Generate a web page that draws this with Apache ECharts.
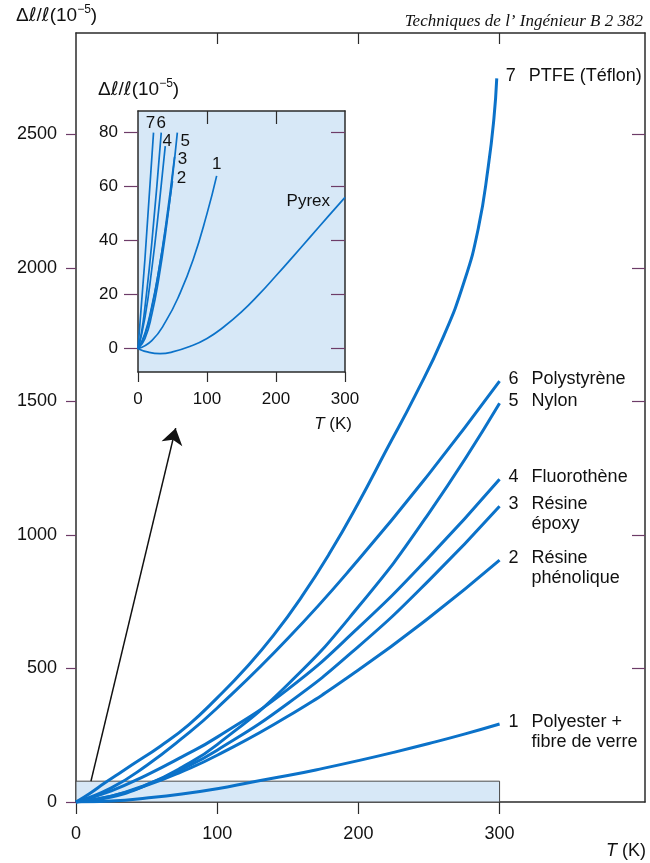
<!DOCTYPE html>
<html><head><meta charset="utf-8">
<script src="https://cdn.jsdelivr.net/npm/echarts@6/dist/echarts.min.js"></script>
<style>html,body{margin:0;padding:0;background:#fff}#c{width:650px;height:863px}</style>
</head><body><div id="c"></div>
<script>
// ---------- DATA ----------
// Main chart: T (K) vs Δℓ/ℓ (10^-5)
const mainT        = [0, 25, 50, 75, 100, 150, 200, 250, 300];
const polystyrene  = [0, 53, 137, 238, 352, 612, 907, 1229, 1576];
const nylon        = [0, 19, 64, 130, 215, 440, 731, 1082, 1493];
const fluorothene  = [0, 42, 101, 169, 243, 422, 653, 917, 1209];
const epoxy        = [0, 22, 65, 123, 194, 369, 582, 830, 1108];
const phenolic     = [0, 22, 62, 114, 175, 321, 494, 690, 906];
const polyesterT   = [0, 25, 50, 75, 100, 125, 150, 175, 200, 225, 250, 275, 300];
const polyester    = [0, 4, 15, 30, 50, 75, 99, 126, 155, 186, 219, 254, 292];
const ptfeT        = [0, 10, 20, 30, 40, 60, 80, 100, 120, 140, 160, 180, 200, 220, 240, 260, 275, 285, 292, 296, 298];
const ptfe         = [0, 33, 70, 105, 140, 210, 290, 390, 500, 625, 770, 935, 1120, 1320, 1520, 1740, 1950, 2150, 2380, 2560, 2710];

const mainXTicks = [0, 100, 200, 300];
const mainYTicks = [0, 500, 1000, 1500, 2000, 2500];
const zoomBoxT = [0, 300];
const zoomBoxV = [0, 78];
const arrowFrom = [10.6, 78];
const arrowTo   = [70.6, 1400];

// Inset (zoom of low range)
const inPtfeT = [0, 10, 22.5];            const inPtfe = [0, 33, 80];
const inPolystyreneT = [0, 5, 10, 20, 33.7]; const inPolystyrene = [0, 5.9, 15.2, 39.2, 80];
const inFluoroT = [0, 10, 20, 30, 39.5];  const inFluoro = [0, 11.4, 29.5, 51.5, 75];
const inNylonT = [0, 10, 20, 30, 40, 50, 57]; const inNylon = [0, 3.7, 12.6, 25.8, 42.8, 63.5, 80];
const inEpoxyT = [0, 10, 20, 30, 40, 53]; const inEpoxy = [0, 5.1, 15.1, 28.8, 45.4, 71];
const inPhenolicT = [0, 10, 20, 30, 40, 50]; const inPhenolic = [0, 5.6, 15.7, 28.9, 44.4, 62];
const inPolyesterT = [0, 20, 40, 60, 80, 100, 114]; const inPolyester = [0, 3, 10, 20, 33, 50, 64];
const pyrexT = [0, 15, 32, 50, 75, 100, 125, 150, 175, 200, 225, 250, 275, 300];
const pyrex  = [0, -1.3, -1.8, -1.2, 0.8, 3.8, 8.2, 13.6, 20.0, 27.0, 34.2, 41.5, 48.8, 56];
const inXTicks = [0, 100, 200, 300];
const inYTicks = [0, 20, 40, 60, 80];

// ---------- CHART ----------
const FONT = '"Liberation Sans", Arial, Helvetica, sans-serif';
const BLUE = '#0b72c9';
const AX = '#2b2b2b';
const TICKY = '#6d3c68';
const FILL = '#d7e8f7';
function zip(xs, ys) { return xs.map((x, i) => [x, ys[i]]); }
const plain = v => String(v);

const MAIN_X_MAX = 403, MAIN_Y_MAX = 2880;
const IN_Y_MIN = -8.63, IN_Y_MAX = 88;

function axis(o) {
  return Object.assign({
    type: 'value', splitLine: { show: false },
    axisLine: { show: true, onZero: false, lineStyle: { color: AX, width: 1.5 } }
  }, o);
}

const rich = {
  n: { width: 23, fontSize: 18, fontFamily: FONT, color: '#111' },
  t: { fontSize: 18, fontFamily: FONT, color: '#111' }
};
function mainLine(name, xs, ys, fmt, two) {
  return {
    type: 'line', name: name, xAxisIndex: 0, yAxisIndex: 0, z: 3,
    data: zip(xs, ys), smooth: true, showSymbol: false, symbol: 'none',
    lineStyle: { color: BLUE, width: 3 }, silent: true,
    endLabel: {
      show: true, formatter: fmt, distance: 9, align: 'left',
      verticalAlign: two ? 'top' : 'middle', offset: [0, two ? -12 : -2],
      lineHeight: 20, rich: rich
    }
  };
}
function inLine(name, xs, ys, lbl, align, off) {
  return {
    type: 'line', name: name, xAxisIndex: 2, yAxisIndex: 2, z: 3,
    data: zip(xs, ys), smooth: true, showSymbol: false, symbol: 'none',
    lineStyle: { color: BLUE, width: 1.7 }, silent: true,
    endLabel: {
      show: true, formatter: lbl, distance: 0, align: align, verticalAlign: 'middle',
      offset: off, fontSize: 17, fontFamily: FONT, color: '#111'
    }
  };
}
const titleRich = {
  a: { fontSize: 19, fontFamily: FONT, fill: '#111', lineHeight: 24 },
  l: { fontSize: 19, fontStyle: 'italic', fontFamily: '"DejaVu Sans", sans-serif', fill: '#111', lineHeight: 24 },
  s: { fontSize: 12, fontFamily: FONT, fill: '#111', verticalAlign: 'top', lineHeight: 13 }
};

const option = {
  animation: false,
  backgroundColor: '#ffffff',
  grid: [
    { left: 76, top: 33, width: 569, height: 769, show: false, outerBoundsMode: 'none' },
    { left: 138, top: 111, width: 207, height: 261, show: true, backgroundColor: FILL, borderWidth: 0, outerBoundsMode: 'none' }
  ],
  xAxis: [
    axis({ gridIndex: 0, position: 'bottom', min: 0, max: MAIN_X_MAX,
      axisTick: { show: true, inside: false, length: 12, customValues: mainXTicks, lineStyle: { color: AX, width: 1.2 } },
      axisLabel: { show: true, customValues: mainXTicks, formatter: plain, margin: 23, fontSize: 18, fontFamily: FONT, color: '#111' } }),
    axis({ gridIndex: 0, position: 'top', min: 0, max: MAIN_X_MAX,
      axisTick: { show: true, inside: true, length: 11, customValues: mainXTicks.slice(1), lineStyle: { color: AX, width: 1.2 } },
      axisLabel: { show: false } }),
    axis({ gridIndex: 1, position: 'bottom', min: 0, max: 300,
      axisTick: { show: true, inside: false, length: 10, customValues: inXTicks, lineStyle: { color: AX, width: 1.2 } },
      axisLabel: { show: true, customValues: inXTicks, formatter: plain, margin: 19, fontSize: 17, fontFamily: FONT, color: '#111' } }),
    axis({ gridIndex: 1, position: 'top', min: 0, max: 300,
      axisTick: { show: true, inside: true, length: 13, customValues: inXTicks.slice(1, 3), lineStyle: { color: AX, width: 1.2 } },
      axisLabel: { show: false } })
  ],
  yAxis: [
    axis({ gridIndex: 0, position: 'left', min: 0, max: MAIN_Y_MAX,
      axisTick: { show: true, inside: false, length: 10, customValues: mainYTicks, lineStyle: { color: TICKY, width: 1.2 } },
      axisLabel: { show: true, customValues: mainYTicks, formatter: plain, margin: 19, fontSize: 18, fontFamily: FONT, color: '#111' } }),
    axis({ gridIndex: 0, position: 'right', min: 0, max: MAIN_Y_MAX,
      axisTick: { show: true, inside: true, length: 13, customValues: mainYTicks.slice(1), lineStyle: { color: TICKY, width: 1.2 } },
      axisLabel: { show: false } }),
    axis({ gridIndex: 1, position: 'left', min: IN_Y_MIN, max: IN_Y_MAX,
      axisTick: { show: true, inside: false, length: 14, customValues: inYTicks, lineStyle: { color: TICKY, width: 1.2 } },
      axisLabel: { show: true, customValues: inYTicks, formatter: plain, margin: 20, fontSize: 17, fontFamily: FONT, color: '#111' } }),
    axis({ gridIndex: 1, position: 'right', min: IN_Y_MIN, max: IN_Y_MAX,
      axisTick: { show: true, inside: true, length: 14, customValues: inYTicks, lineStyle: { color: TICKY, width: 1.2 } },
      axisLabel: { show: false } })
  ],
  series: [
    { type: 'line', xAxisIndex: 0, yAxisIndex: 0, data: [], z: 1, silent: true,
      markArea: { silent: true, itemStyle: { color: FILL, borderColor: '#4a4a4a', borderWidth: 1 },
        data: [[{ coord: [zoomBoxT[0], zoomBoxV[0]] }, { coord: [zoomBoxT[1], zoomBoxV[1]] }]] } },
    { type: 'lines', coordinateSystem: 'cartesian2d', xAxisIndex: 0, yAxisIndex: 0, z: 4, silent: true,
      symbol: ['none', 'arrow'], symbolSize: [9, 16],
      lineStyle: { color: '#111', width: 1.5, opacity: 1 },
      data: [{ coords: [arrowFrom, arrowTo] }] },
    mainLine('PTFE', ptfeT, ptfe, '{n|7}{t|PTFE (Téflon)}', false),
    mainLine('Polystyrène', mainT, polystyrene, '{n|6}{t|Polystyrène}', false),
    mainLine('Nylon', mainT, nylon, '{n|5}{t|Nylon}', false),
    mainLine('Fluorothène', mainT, fluorothene, '{n|4}{t|Fluorothène}', false),
    mainLine('Résine époxy', mainT, epoxy, '{n|3}{t|Résine}\n{n|\u00a0}{t|époxy}', true),
    mainLine('Résine phénolique', mainT, phenolic, '{n|2}{t|Résine}\n{n|\u00a0}{t|phénolique}', true),
    mainLine('Polyester + fibre de verre', polyesterT, polyester, '{n|1}{t|Polyester +}\n{n|\u00a0}{t|fibre de verre}', true),
    inLine('7', inPtfeT, inPtfe, '7', 'center', [-3, -9]),
    inLine('6', inPolystyreneT, inPolystyrene, '6', 'center', [0, -9]),
    inLine('4', inFluoroT, inFluoro, '4', 'center', [2, -5]),
    inLine('5', inNylonT, inNylon, '5', 'center', [8, 9]),
    inLine('3', inEpoxyT, inEpoxy, '3', 'center', [8, 2]),
    inLine('2', inPhenolicT, inPhenolic, '2', 'center', [9, -3]),
    inLine('1', inPolyesterT, inPolyester, '1', 'center', [0, -12]),
    inLine('Pyrex', pyrexT, pyrex, 'Pyrex', 'right', [-15, 4])
  ],
  graphic: [
    { type: 'text', x: 643, y: 22, silent: true,
      style: { text: 'Techniques de l’ Ingénieur B 2 382', font: 'italic 17px "Liberation Serif", "Times New Roman", serif', fill: '#111', align: 'right', verticalAlign: 'middle' } },
    { type: 'text', x: 16, y: 16, silent: true,
      style: { text: '{a|Δ}{l|ℓ}{a|/}{l|ℓ}{a|(10}{s|−5}{a|)}', verticalAlign: 'middle', align: 'left', rich: titleRich } },
    { type: 'text', x: 98, y: 90, silent: true,
      style: { text: '{a|Δ}{l|ℓ}{a|/}{l|ℓ}{a|(10}{s|−5}{a|)}', verticalAlign: 'middle', align: 'left', rich: titleRich } },
    { type: 'text', x: 646, y: 851, silent: true,
      style: { text: '{i|T}{a| (K)}', align: 'right', verticalAlign: 'middle',
        rich: { i: { fontSize: 18, fontStyle: 'italic', fontFamily: FONT, fill: '#111' }, a: { fontSize: 18, fontFamily: FONT, fill: '#111' } } } },
    { type: 'text', x: 352, y: 424, silent: true,
      style: { text: '{i|T}{a| (K)}', align: 'right', verticalAlign: 'middle',
        rich: { i: { fontSize: 17, fontStyle: 'italic', fontFamily: FONT, fill: '#111' }, a: { fontSize: 17, fontFamily: FONT, fill: '#111' } } } }
  ]
};

const chart = echarts.init(document.getElementById('c'), null, { renderer: 'canvas', width: 650, height: 863 });
chart.setOption(option);
</script></body></html>
